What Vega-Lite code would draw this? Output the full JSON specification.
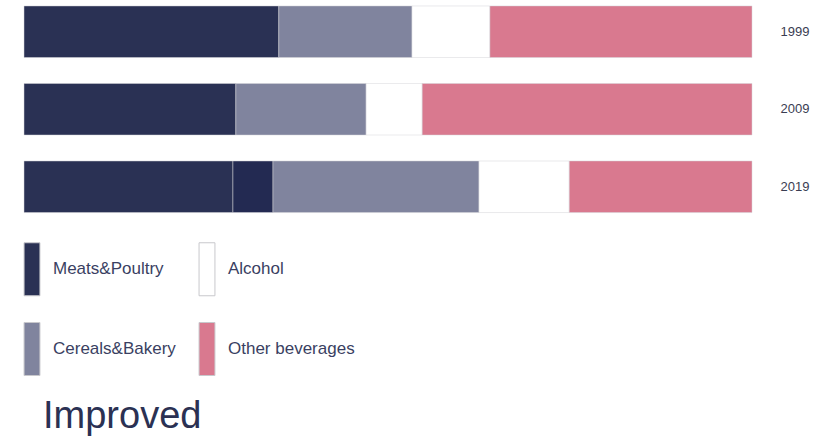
{
  "$schema": "https://vega.github.io/schema/vega-lite/v6.json",
  "width": 728,
  "height": 218.5,
  "padding": {"left": 5, "top": 0, "right": 5, "bottom": 0},
  "background": "white",
  "config": {"view": {"stroke": null}, "font": "Liberation Sans"},
  "title": {
    "text": "Improved",
    "orient": "bottom",
    "anchor": "start",
    "frame": "group",
    "dx": 19,
    "offset": 20,
    "fontSize": 38,
    "fontWeight": "normal",
    "font": "Liberation Sans",
    "color": "#2b3153"
  },
  "data": {
    "values": [
      {"year": "1999", "category": "Meats&Poultry", "rank": 1, "share": 35.0},
      {"year": "1999", "category": "Cereals&Bakery", "rank": 3, "share": 18.3},
      {"year": "1999", "category": "Alcohol", "rank": 4, "share": 10.7},
      {"year": "1999", "category": "Other beverages", "rank": 5, "share": 36.0},
      {"year": "2009", "category": "Meats&Poultry", "rank": 1, "share": 29.1},
      {"year": "2009", "category": "Cereals&Bakery", "rank": 3, "share": 17.9},
      {"year": "2009", "category": "Alcohol", "rank": 4, "share": 7.7},
      {"year": "2009", "category": "Other beverages", "rank": 5, "share": 45.3},
      {"year": "2019", "category": "Meats&Poultry", "rank": 1, "share": 28.7},
      {"year": "2019", "category": "Meats&Poultry (extra)", "rank": 2, "share": 5.5},
      {"year": "2019", "category": "Cereals&Bakery", "rank": 3, "share": 28.3},
      {"year": "2019", "category": "Alcohol", "rank": 4, "share": 12.4},
      {"year": "2019", "category": "Other beverages", "rank": 5, "share": 25.1}
    ]
  },
  "mark": {"type": "bar", "stroke": "#d4d4d8", "strokeWidth": 0.5},
  "encoding": {
    "y": {
      "field": "year",
      "type": "nominal",
      "scale": {"paddingInner": 0.335, "paddingOuter": 0.077},
      "axis": {
        "orient": "right",
        "title": null,
        "domain": false,
        "ticks": false,
        "labelPadding": 28,
        "labelFontSize": 13,
        "labelColor": "#3a3d52",
        "labelFont": "Liberation Sans"
      }
    },
    "x": {
      "field": "share",
      "type": "quantitative",
      "stack": "zero",
      "scale": {"domain": [0, 100], "nice": false},
      "axis": null
    },
    "order": {"field": "rank", "type": "quantitative"},
    "color": {
      "field": "category",
      "type": "nominal",
      "scale": {
        "domain": ["Meats&Poultry", "Cereals&Bakery", "Alcohol", "Other beverages", "Meats&Poultry (extra)"],
        "range": ["#2a3154", "#80849e", "#ffffff", "#d9798f", "#232a52"]
      },
      "legend": {
        "title": null,
        "orient": "none",
        "legendX": -19,
        "legendY": 242,
        "columns": 2,
        "values": ["Meats&Poultry", "Cereals&Bakery", "Alcohol", "Other beverages"],
        "symbolType": "M-0.3,-1H0.3V1H-0.3Z",
        "symbolSize": 2809,
        "symbolStrokeColor": "#c8c8cc",
        "symbolStrokeWidth": 1,
        "symbolOpacity": 1,
        "symbolOffset": 0,
        "labelOffset": -6,
        "labelFontSize": 17,
        "labelFont": "Liberation Sans",
        "labelColor": "#3a3f62",
        "rowPadding": 22,
        "columnPadding": -22,
        "gridAlign": "all",
        "padding": 0
      }
    }
  }
}
